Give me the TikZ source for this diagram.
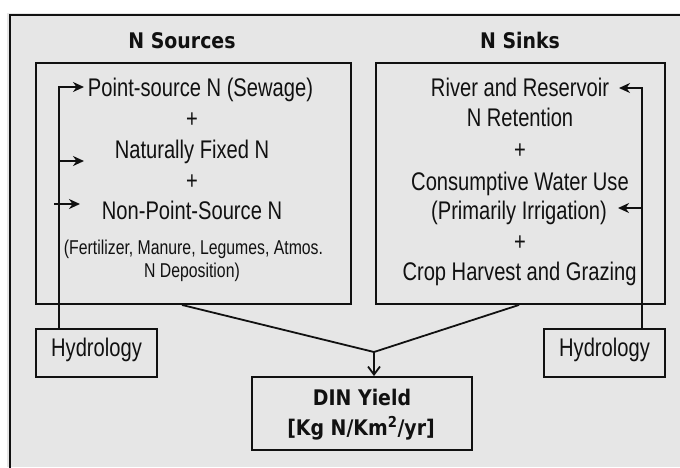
\documentclass[tikz,border=0pt]{standalone}
\usepackage{fontspec}
\usetikzlibrary{arrows.meta}
\newfontfamily\bodyf{Liberation Sans}[FakeStretch=0.79]
\newfontfamily\headf{DejaVu Sans}[FakeStretch=0.88]
\definecolor{bggray}{HTML}{E6E6E6}
\definecolor{ink}{HTML}{111111}
\tikzset{
  box/.style={draw=ink, line width=1.9pt, inner sep=0pt, fill=none},
  wire/.style={draw=ink, line width=1.8pt},
  stealthtip/.style={-{Stealth[length=11pt,width=10pt,inset=3.5pt]}},
  barbtip/.style={-{Straight Barb[length=8pt,width=12pt]}},
  txt/.style={anchor=base, inner sep=0pt, text=ink, font=\bodyf\fontsize{25.5}{30}\selectfont},
  smalltxt/.style={anchor=base, inner sep=0pt, text=ink, font=\bodyf\fontsize{20}{24}\selectfont},
  headtxt/.style={anchor=base, inner sep=0pt, text=ink, font=\headf\bfseries\fontsize{21.5}{26}\selectfont},
}
\begin{document}
\begin{tikzpicture}[x=1pt,y=-1pt]
\useasboundingbox (0,0) rectangle (680,467);
\fill[white] (0,0) rectangle (680,467);
\fill[bggray] (7,13) rectangle (680,467);
\draw[ink, line width=2pt] (10,470) -- (10,15) -- (683,15);

% titles
\node[headtxt] (tsrc) at (182,48) {N Sources};
\node[headtxt] (tsnk) at (520,48) {N Sinks};

% main boxes
\node[box, minimum width=315pt, minimum height=241pt] (src) at (193.5,183.5) {};
\node[box, minimum width=289pt, minimum height=241pt] (snk) at (520.5,183.5) {};
\node[box, minimum width=121pt, minimum height=48pt] (hydL) at (96.5,353) {};
\node[box, minimum width=121pt, minimum height=48pt] (hydR) at (604.5,353) {};
\node[box, minimum width=220pt, minimum height=73pt] (din) at (362,413.5) {};

% source texts
\node[txt] (ps) at (200.5,96) {Point-source N (Sewage)};
\node[txt] (pl1) at (192,127) {+};
\node[txt] (nf) at (192,158) {Naturally Fixed N};
\node[txt] (pl2) at (192,189) {+};
\node[txt] (nps) at (192,219) {Non-Point-Source N};
\node[smalltxt] (fert) at (193.5,254) {(Fertilizer, Manure, Legumes, Atmos.};
\node[smalltxt] (dep) at (192,277) {N Deposition)};

% sink texts
\node[txt] (riv) at (520,96) {River and Reservoir};
\node[txt] (ret) at (520,126) {N Retention};
\node[txt] (pl3) at (520,158) {+};
\node[txt] (cwu) at (520,190) {Consumptive Water Use};
\node[txt] (irr) at (519,219) {(Primarily Irrigation)};
\node[txt] (pl4) at (520,250) {+};
\node[txt] (crop) at (519.5,280) {Crop Harvest and Grazing};

% hydrology and yield texts
\node[txt] (hydLt) at (96.5,356) {Hydrology};
\node[txt] (hydRt) at (604.5,356) {Hydrology};
\node[headtxt] (dint) at (362,405) {DIN Yield};
\node[headtxt] (unit) at (361,435) {[Kg N/Km\textsuperscript{2}/yr]};

% left hydrology arrows
\coordinate (L1) at (84,87);
\coordinate (L2s) at (59,161); \coordinate (L2) at (84,161);
\coordinate (L3s) at (54,204); \coordinate (L3) at (80,204);
\draw[wire, stealthtip] (hydL.north -| L2s) |- (L1);
\draw[wire, stealthtip] (L2s) -- (L2);
\draw[wire, stealthtip] (L3s) -- (L3);

% right hydrology arrows
\coordinate (R1) at (619,88);
\coordinate (R2s) at (642,208); \coordinate (R2) at (618,208);
\draw[wire, stealthtip] (hydR.north -| R2s) |- (R1);
\draw[wire, stealthtip] (R2s) -- (R2);

% converging connectors
\coordinate (J) at (374,352);
\draw[wire] ([xshift=-11.5pt]src.south) -- (J);
\draw[wire] ([xshift=-1.5pt]snk.south) -- (J);
\draw[wire, barbtip] (J) -- (din.north -| J);
\end{tikzpicture}
\end{document}
